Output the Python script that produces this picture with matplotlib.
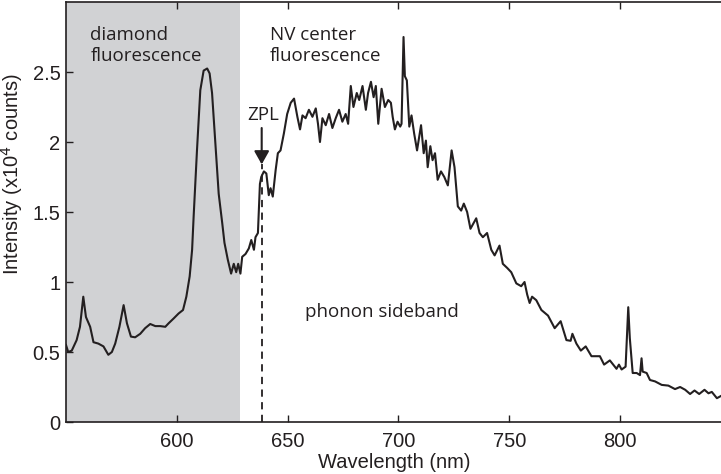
import numpy as np
import matplotlib.pyplot as plt

plt.rcParams['font.family'] = ['Liberation Sans', 'DejaVu Sans']

# spectrum (wavelength in nm, intensity in 1e4 counts)
wavelength = [550.0, 551.0, 552.6, 554.8, 556.3, 557.8, 559.0, 560.9, 562.4, 564.6,
              566.9, 569.1, 570.7, 572.2, 574.1, 576.0, 577.5, 579.3, 581.2, 583.5,
              585.7, 588.0, 590.3, 592.5, 594.8, 596.3, 598.6, 600.8, 602.8, 604.3,
              605.8, 606.9, 607.6, 609.1, 610.6, 612.1, 613.7, 614.8, 615.9, 617.4,
              618.9, 620.5, 621.5, 623.0, 624.5, 625.7, 626.8, 627.7, 628.7, 629.5,
              631.0, 632.5, 633.6, 634.8, 635.5, 636.6, 637.5, 638.1, 639.3, 640.4,
              641.5, 642.3, 643.3, 644.6, 645.6, 646.8, 648.3, 649.8, 651.4, 652.9,
              654.4, 655.6, 656.7, 658.1, 659.6, 661.2, 662.7, 663.7, 664.6, 665.7,
              667.2, 668.7, 670.2, 671.7, 673.2, 674.7, 676.2, 677.3, 678.5, 679.7,
              681.2, 682.3, 683.8, 685.3, 686.3, 687.6, 688.8, 689.8, 690.9, 692.4,
              693.9, 695.4, 696.6, 697.4, 698.4, 699.6, 700.8, 701.4, 702.3, 702.9,
              703.8, 704.9, 705.9, 707.1, 708.4, 709.4, 710.2, 711.4, 712.4, 713.2,
              714.4, 715.4, 716.5, 717.7, 719.2, 720.7, 722.3, 724.0, 725.3, 726.8,
              728.3, 729.5, 731.0, 732.5, 735.1, 736.6, 738.1, 740.0, 741.9, 743.4,
              745.6, 747.1, 749.1, 750.9, 753.2, 755.4, 756.9, 758.1, 759.2, 760.3,
              762.2, 764.5, 767.5, 770.5, 773.2, 775.8, 777.7, 778.5, 780.3, 782.3,
              784.5, 787.1, 790.9, 792.8, 795.4, 798.4, 799.5, 800.7, 802.5, 803.7,
              804.4, 805.7, 807.5, 809.0, 809.7, 810.2, 812.0, 813.5, 815.8, 818.8,
              821.8, 824.8, 827.1, 829.4, 831.6, 833.6, 835.7, 838.1, 839.9, 841.4,
              843.7, 846.0]
intensity = [0.55, 0.50, 0.51, 0.585, 0.68, 0.895, 0.75, 0.68, 0.57, 0.56,
             0.54, 0.48, 0.50, 0.56, 0.68, 0.835, 0.705, 0.61, 0.605, 0.63,
             0.67, 0.70, 0.685, 0.685, 0.68, 0.705, 0.74, 0.775, 0.80, 0.895,
             1.04, 1.23, 1.47, 1.94, 2.37, 2.51, 2.525, 2.49, 2.35, 1.99,
             1.63, 1.42, 1.28, 1.16, 1.06, 1.13, 1.07, 1.13, 1.06, 1.18,
             1.20, 1.24, 1.30, 1.23, 1.32, 1.35, 1.70, 1.75, 1.79, 1.775,
             1.62, 1.67, 1.61, 1.80, 1.92, 1.94, 2.06, 2.20, 2.28, 2.31,
             2.18, 2.09, 2.19, 2.17, 2.23, 2.18, 2.24, 2.13, 2.00, 2.17,
             2.12, 2.20, 2.10, 2.17, 2.23, 2.145, 2.20, 2.13, 2.40, 2.25,
             2.35, 2.30, 2.40, 2.23, 2.35, 2.43, 2.32, 2.40, 2.13, 2.38,
             2.25, 2.30, 2.28, 2.18, 2.09, 2.145, 2.11, 2.13, 2.75, 2.47,
             2.44, 2.11, 2.19, 2.06, 1.94, 2.04, 2.12, 1.92, 2.01, 1.82,
             1.97, 1.87, 1.92, 1.73, 1.79, 1.75, 1.69, 1.94, 1.82, 1.54,
             1.51, 1.56, 1.50, 1.38, 1.455, 1.35, 1.32, 1.35, 1.23, 1.19,
             1.26, 1.13, 1.10, 1.07, 0.99, 0.97, 1.00, 0.91, 0.85, 0.895,
             0.87, 0.80, 0.76, 0.67, 0.72, 0.585, 0.58, 0.63, 0.56, 0.51,
             0.54, 0.47, 0.47, 0.41, 0.44, 0.38, 0.41, 0.375, 0.395, 0.82,
             0.60, 0.35, 0.35, 0.335, 0.455, 0.36, 0.35, 0.30, 0.29, 0.265,
             0.26, 0.235, 0.25, 0.23, 0.20, 0.225, 0.20, 0.23, 0.205, 0.215,
             0.17, 0.19]

diamond_band = (550, 628.5)
zpl = 638.3

fig = plt.figure(figsize=(7.21, 4.74), dpi=100)
ax = fig.add_axes([66 / 721, 1 - 422 / 474, 656 / 721, 420 / 474])

ax.axvspan(*diamond_band, color='#d1d2d4', lw=0, zorder=0)
ax.plot(wavelength, intensity, color='#231f20', lw=1.5, zorder=3)
ax.plot([zpl, zpl], [0, 1.84], color='#231f20', lw=1.3, ls=(0, (4, 3)), zorder=2)
ax.annotate('', xy=(zpl, 1.84), xytext=(zpl, 2.10),
            arrowprops=dict(arrowstyle='-|>,head_length=0.8,head_width=0.45',
                            color='#231f20', lw=1.5, shrinkA=0, shrinkB=0))

txt = dict(family='Open Sans', fontsize=13.5, color='#231f20')
ax.text(561, 2.83, 'diamond\nfluorescence', va='top', linespacing=1.2, **txt)
ax.text(642, 2.83, 'NV center\nfluorescence', va='top', linespacing=1.2, **txt)
ax.text(639.2, 2.19, 'ZPL', ha='center', va='center', **txt)
ax.text(658, 0.786, 'phonon sideband', va='center', **txt)

ax.set_xlim(550, 846)
ax.set_ylim(0, 3)
ax.set_xticks([600, 650, 700, 750, 800])
ax.set_yticks([0, 0.5, 1, 1.5, 2, 2.5])
ax.set_yticklabels(['0', '0.5', '1', '1.5', '2', '2.5'])
ax.tick_params(direction='in', length=5, width=1, top=True, labelsize=14.5,
               colors='#231f20')
ax.tick_params(axis='x', pad=7)
ax.tick_params(axis='y', pad=4)
for s in ax.spines.values():
    s.set_color('#231f20')
    s.set_linewidth(1.2)

ax.set_xlabel('Wavelength (nm)', fontsize=14.5, color='#231f20', labelpad=2)
ax.set_ylabel('Intensity (x10$^4$ counts)', fontsize=14.5, color='#231f20')
ax.yaxis.set_label_coords(-0.063, 0.59)

fig.savefig('out.png', dpi=100)
